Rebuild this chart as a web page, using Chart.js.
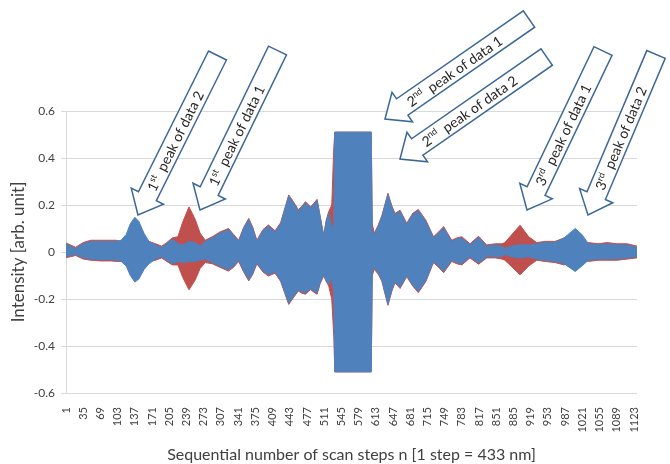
<!DOCTYPE html>
<html>
<head>
<meta charset="utf-8">
<script src="https://cdn.jsdelivr.net/npm/chart.js@4/dist/chart.umd.min.js"></script>
<style>
  body { margin: 0; background: #ffffff; }
  #wrap { width: 670px; height: 464px; }
</style>
</head>
<body>
<div id="wrap"><canvas id="scan-chart" width="670" height="464"></canvas></div>
<script>
const steps = [1, 10, 20, 35, 50, 70, 90, 100, 110, 120, 128, 137, 145, 155, 165, 178, 190, 200, 211, 222,
  232, 244, 256, 266, 276, 290, 305, 322, 332, 342, 352, 362, 370, 378, 390, 401, 414, 425, 441, 450,
  460, 467, 474, 484, 490, 497, 503, 510, 515, 520, 526, 530, 532, 604, 606, 610, 618, 625, 637, 645,
  651, 661, 674, 686, 697, 712, 727, 737, 747, 763, 773, 783, 799, 816, 832, 849, 862, 868, 880, 898,
  915, 931, 947, 967, 985, 1007, 1020, 1033, 1052, 1070, 1090, 1110, 1129];

// data 1 (red) - upper / lower envelope
const data1Upper = [0.038, 0.03, 0.02, 0.04, 0.05, 0.05, 0.05, 0.05, 0.045, 0.045, 0.045, 0.045, 0.045, 0.045, 0.045, 0.035, 0.025, 0.04, 0.06, 0.065,
  0.13, 0.192, 0.14, 0.08, 0.05, 0.065, 0.085, 0.1, 0.075, 0.05, 0.105, 0.143, 0.105, 0.05, 0.095, 0.115, 0.09, 0.125, 0.243, 0.215,
  0.18, 0.195, 0.214, 0.193, 0.205, 0.224, 0.155, 0.072, 0.135, 0.172, 0.2, 0.445, 0.51, 0.51, 0.12, 0.08, 0.115, 0.155, 0.25, 0.195,
  0.164, 0.178, 0.122, 0.165, 0.181, 0.135, 0.065, 0.085, 0.108, 0.05, 0.06, 0.065, 0.035, 0.067, 0.03, 0.035, 0.035, 0.04, 0.07, 0.114,
  0.065, 0.04, 0.045, 0.045, 0.06, 0.04, 0.04, 0.04, 0.035, 0.04, 0.035, 0.035, 0.025];
const data1Lower = [-0.024, -0.02, -0.015, -0.03, -0.035, -0.038, -0.038, -0.04, -0.04, -0.04, -0.04, -0.04, -0.04, -0.04, -0.04, -0.035, -0.025, -0.04, -0.055, -0.055,
  -0.11, -0.161, -0.12, -0.07, -0.045, -0.05, -0.065, -0.081, -0.065, -0.04, -0.085, -0.123, -0.095, -0.05, -0.085, -0.102, -0.09, -0.125, -0.223, -0.195,
  -0.166, -0.175, -0.18, -0.16, -0.17, -0.18, -0.135, -0.102, -0.125, -0.145, -0.2, -0.36, -0.51, -0.51, -0.1, -0.073, -0.095, -0.125, -0.227, -0.165,
  -0.131, -0.155, -0.105, -0.145, -0.173, -0.125, -0.045, -0.065, -0.088, -0.04, -0.05, -0.055, -0.025, -0.052, -0.025, -0.025, -0.03, -0.035, -0.06, -0.097,
  -0.06, -0.035, -0.04, -0.045, -0.055, -0.035, -0.035, -0.04, -0.035, -0.035, -0.035, -0.03, -0.025];

// data 2 (blue) - upper / lower envelope
const data2Upper = [0.034, 0.025, 0.015, 0.035, 0.045, 0.045, 0.045, 0.045, 0.05, 0.075, 0.12, 0.148, 0.13, 0.08, 0.045, 0.03, 0.02, 0.035, 0.055, 0.035,
  0.03, 0.045, 0.04, 0.025, 0.045, 0.06, 0.08, 0.095, 0.07, 0.045, 0.1, 0.138, 0.1, 0.045, 0.09, 0.11, 0.085, 0.12, 0.238, 0.21,
  0.174, 0.19, 0.209, 0.188, 0.2, 0.219, 0.15, 0.067, 0.13, 0.167, 0.1, 0.12, 0.51, 0.51, 0.09, 0.074, 0.11, 0.15, 0.245, 0.19,
  0.159, 0.173, 0.117, 0.16, 0.176, 0.13, 0.06, 0.08, 0.103, 0.045, 0.055, 0.06, 0.03, 0.062, 0.025, 0.03, 0.025, 0.015, 0.025, 0.031,
  0.03, 0.035, 0.04, 0.04, 0.06, 0.1, 0.075, 0.035, 0.03, 0.035, 0.03, 0.03, 0.02];
const data2Lower = [-0.02, -0.015, -0.01, -0.025, -0.03, -0.033, -0.033, -0.035, -0.04, -0.06, -0.1, -0.128, -0.115, -0.075, -0.05, -0.03, -0.02, -0.035, -0.05, -0.04,
  -0.045, -0.04, -0.04, -0.035, -0.03, -0.045, -0.06, -0.076, -0.06, -0.035, -0.08, -0.118, -0.09, -0.045, -0.08, -0.097, -0.085, -0.12, -0.218, -0.19,
  -0.161, -0.17, -0.175, -0.155, -0.165, -0.175, -0.13, -0.097, -0.12, -0.14, -0.11, -0.18, -0.51, -0.51, -0.08, -0.068, -0.09, -0.12, -0.222, -0.16,
  -0.126, -0.15, -0.1, -0.14, -0.168, -0.12, -0.04, -0.06, -0.083, -0.035, -0.045, -0.05, -0.02, -0.047, -0.02, -0.02, -0.02, -0.01, -0.02, -0.026,
  -0.02, -0.03, -0.035, -0.04, -0.05, -0.083, -0.06, -0.035, -0.03, -0.03, -0.03, -0.025, -0.02];

const xTickSteps = [1, 35, 69, 103, 137, 171, 205, 239, 273, 307, 341, 375, 409, 443, 477, 511, 545, 579,
  613, 647, 681, 715, 749, 783, 817, 851, 885, 919, 953, 987, 1021, 1055, 1089, 1123];

const arrowNotes = [
  {ord: '1', sup: 'st', text: 'peak of data 2', tip: [138, 215], tail: [217.5, 55.5]},
  {ord: '1', sup: 'st', text: 'peak of data 1', tip: [200, 210], tail: [277.5, 50.5]},
  {ord: '2', sup: 'nd', text: 'peak of data 1', tip: [385, 119], tail: [529, 19]},
  {ord: '2', sup: 'nd', text: 'peak of data 2', tip: [400, 159], tail: [546.7, 57]},
  {ord: '3', sup: 'rd', text: 'peak of data 1', tip: [527, 210], tail: [603, 51]},
  {ord: '3', sup: 'rd', text: 'peak of data 2', tip: [588, 215], tail: [656, 54.5]}
];

const RED = '#C0504D';
const BLUE = '#4F81BD';
const FONT = 'Lato, "Liberation Sans", sans-serif';

function toPoints(values) {
    return steps.map((n, i) => ({x: n, y: values[i]}));
}

function envelope(label, values, color, fill, order) {
    return {
        label: label,
        data: toPoints(values),
        borderColor: color,
        backgroundColor: color,
        borderWidth: 1,
        pointRadius: 0,
        tension: 0,
        fill: fill,
        order: order
    };
}

// block arrows with rotated captions
function drawArrow(ctx, a) {
    const dx = a.tail[0] - a.tip[0];
    const dy = a.tail[1] - a.tip[1];
    const len = Math.hypot(dx, dy);
    const sw = 10, hw = 18, hl = 21;
    ctx.save();
    ctx.translate(a.tip[0], a.tip[1]);
    ctx.rotate(Math.atan2(dy, dx));
    ctx.beginPath();
    ctx.moveTo(0, 0);
    ctx.lineTo(hl, -hw);
    ctx.lineTo(hl, -sw);
    ctx.lineTo(len, -sw);
    ctx.lineTo(len, sw);
    ctx.lineTo(hl, sw);
    ctx.lineTo(hl, hw);
    ctx.closePath();
    ctx.fillStyle = '#ffffff';
    ctx.fill();
    ctx.lineWidth = 1.5;
    ctx.strokeStyle = '#3C6897';
    ctx.stroke();

    ctx.fillStyle = '#262626';
    ctx.textBaseline = 'middle';
    ctx.textAlign = 'left';
    let x = hl + 7;
    ctx.font = '14px ' + FONT;
    ctx.fillText(a.ord, x, 1);
    x += ctx.measureText(a.ord).width;
    ctx.font = '9px ' + FONT;
    ctx.fillText(a.sup, x, -3);
    x += ctx.measureText(a.sup).width + 7;
    ctx.font = '14px ' + FONT;
    ctx.fillText(a.text, x, 1);
    ctx.restore();
}

const arrowPlugin = {
    id: 'arrowNotes',
    afterDraw(chart) {
        const ctx = chart.ctx;
        arrowNotes.forEach(a => drawArrow(ctx, a));
    }
};

const ctx = document.getElementById('scan-chart').getContext('2d');
new Chart(ctx, {
    type: 'line',
    data: {
        datasets: [
            envelope('data 2', data2Upper, BLUE, '+1', 0),
            envelope('data 2 lower', data2Lower, BLUE, false, 0),
            envelope('data 1', data1Upper, RED, '+1', 1),
            envelope('data 1 lower', data1Lower, RED, false, 1)
        ]
    },
    options: {
        responsive: false,
        animation: false,
        layout: { padding: { top: 111, right: 33, bottom: 0, left: 0 } },
        plugins: {
            legend: { display: false },
            tooltip: { enabled: false }
        },
        scales: {
            x: {
                type: 'linear',
                min: 1,
                max: 1129,
                afterBuildTicks: function(scale) {
                    scale.ticks = xTickSteps.map(v => ({value: v}));
                },
                afterFit: function(scale) { scale.height = 71; },
                grid: { display: false },
                border: { display: false },
                ticks: {
                    autoSkip: false,
                    minRotation: 90,
                    maxRotation: 90,
                    padding: 6,
                    color: '#404040',
                    font: { family: FONT, size: 11 },
                    callback: function(value) { return String(value); }
                },
                title: {
                    display: true,
                    text: 'Sequential number of scan steps n [1 step = 433 nm]',
                    color: '#404040',
                    padding: { top: 3, bottom: 0 },
                    font: { family: FONT, size: 16 }
                }
            },
            y: {
                min: -0.6,
                max: 0.6,
                afterFit: function(scale) { scale.width = 66; },
                grid: { color: '#D9D9D9', tickLength: 5, drawTicks: true },
                border: { display: true, color: '#D9D9D9' },
                ticks: {
                    stepSize: 0.2,
                    padding: 6,
                    color: '#404040',
                    font: { family: FONT, size: 12 }
                },
                title: {
                    display: true,
                    text: 'Intensity [arb. unit]',
                    color: '#404040',
                    padding: { top: 8, bottom: 0 },
                    font: { family: FONT, size: 17 }
                }
            }
        }
    },
    plugins: [arrowPlugin]
});
</script>
</body>
</html>
